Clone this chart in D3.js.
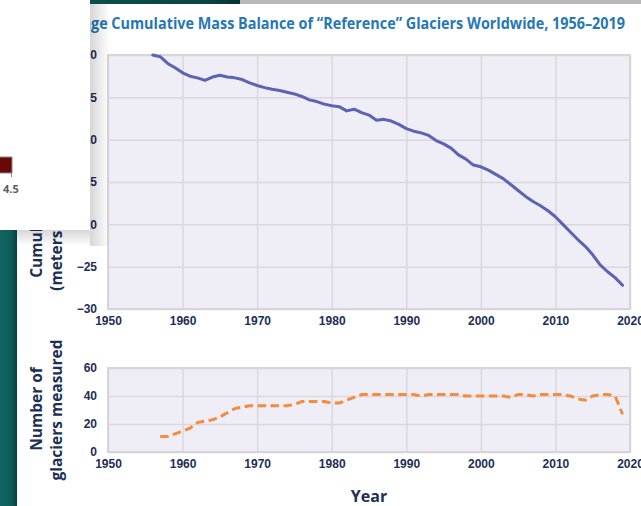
<!DOCTYPE html>
<html lang="en">
<head>
<meta charset="UTF-8">
<title>Glaciers - cumulative mass balance</title>
<script src="https://d3js.org/d3.v7.min.js"></script>
<style>
    body { margin: 0; background: #ffffff; }
    svg { display: block; font-family: "Open Sans", sans-serif; }
    .tick text { font-size: 12px; font-weight: 700; fill: #1c2f55; }
    .grid line { stroke: #d9d8dc; stroke-width: 1.5px; }
    .grid path { display: none; }
    .ylab { font-size: 15.5px; font-weight: 700; fill: #1c2f55; }
</style>
</head>
<body>
<svg id="chart" width="641" height="506"></svg>
<script>
    // cumulative mass balance, meters of water equivalent
    let mb_years = d3.range(1956, 2020)
    let mb_values = [
        0, -0.2, -1.0, -1.5, -2.1, -2.5, -2.7, -3.0, -2.6, -2.4,
        -2.6, -2.7, -2.9, -3.3, -3.6, -3.85, -4.05, -4.2, -4.4, -4.6,
        -4.9, -5.3, -5.5, -5.8, -6.0, -6.1, -6.6, -6.4, -6.8, -7.1,
        -7.7, -7.6, -7.8, -8.2, -8.7, -9.0, -9.2, -9.5, -10.1, -10.5,
        -11.0, -11.8, -12.3, -13.0, -13.2, -13.6, -14.1, -14.6, -15.3, -16.0,
        -16.7, -17.3, -17.8, -18.4, -19.1, -20.0, -20.9, -21.8, -22.6, -23.6,
        -24.8, -25.6, -26.3, -27.2
    ]
    // number of glaciers measured
    let n_years = d3.range(1957, 2020)
    let n_values = [
        11, 11, 13, 15, 17, 21, 22, 23, 25, 28,
        31, 32, 33, 33, 33, 33, 33, 33, 34, 36,
        36, 36, 36, 35, 35, 37, 39, 41, 41, 41,
        41, 41, 41, 41, 41, 40, 41, 41, 41, 41,
        41, 40, 40, 40, 40, 40, 40, 39, 41, 41,
        40, 41, 41, 41, 41, 40, 38, 37, 40, 41,
        41, 40, 27
    ]
    let x_ticks = [1950, 1960, 1970, 1980, 1990, 2000, 2010, 2020]
    let mb_ticks = [0, -5, -10, -15, -20, -25, -30]
    let n_ticks = [0, 20, 40, 60]

    let svg = d3.select("#chart")
    let defs = svg.append("defs")

    let navy = "#1c2f55"
    let left = 108, right = 630

    let x = d3.scaleLinear().domain([1950, 2020]).range([left, right])
    let yTop = d3.scaleLinear().domain([-30, 0]).range([309, 55])
    let yBot = d3.scaleLinear().domain([0, 60]).range([452, 368])

    // title (its first letters sit under the overlapping card)
    let title = svg.append("g")
        .attr("font-size", 15.5).attr("font-weight", 700)
        .attr("fill", "#2677b5")
    title.append("text")
        .attr("x", 91).attr("y", 29)
        .attr("text-anchor", "end")
        .text("Avera")
    title.append("text")
        .attr("x", 91).attr("y", 29)
        .attr("textLength", 534)
        .attr("lengthAdjust", "spacingAndGlyphs")
        .text("ge Cumulative Mass Balance of \u201CReference\u201D Glaciers Worldwide, 1956\u20132019")

    function panel(yScale, ticks, top, bottom) {
        let g = svg.append("g")
        g.append("rect")
            .attr("x", left).attr("y", top)
            .attr("width", right - left).attr("height", bottom - top)
            .attr("fill", "#efedf5")
        g.append("g").attr("class", "grid")
            .attr("transform", `translate(0,${bottom})`)
            .call(d3.axisBottom(x).tickValues(x_ticks).tickSize(-(bottom - top))
                .tickPadding(7.5).tickFormat(d3.format("d")))
        g.append("g").attr("class", "grid")
            .attr("transform", `translate(${left},0)`)
            .call(d3.axisLeft(yScale).tickValues(ticks).tickSize(-(right - left))
                .tickPadding(11))
        g.selectAll(".tick text").attr("font-family", null).attr("font-size", null)
        g.append("rect")
            .attr("x", left).attr("y", top)
            .attr("width", right - left).attr("height", bottom - top)
            .attr("fill", "none").attr("stroke", "#d6d5da").attr("stroke-width", 2)
        return g
    }

    let gTop = panel(yTop, mb_ticks, 55, 309)
    let gBot = panel(yBot, n_ticks, 368, 452)

    gTop.append("path")
        .datum(mb_values)
        .attr("fill", "none")
        .attr("stroke", "#5b63b5")
        .attr("stroke-width", 3)
        .attr("stroke-linejoin", "round")
        .attr("stroke-linecap", "round")
        .attr("d", d3.line().x((d, i) => x(mb_years[i])).y(d => yTop(d)))

    gBot.append("path")
        .datum(n_values)
        .attr("fill", "none")
        .attr("stroke", "#f58b3d")
        .attr("stroke-width", 3)
        .attr("stroke-dasharray", "8.5,4.5")
        .attr("d", d3.line().x((d, i) => x(n_years[i])).y(d => yBot(d)))

    // axis titles
    svg.append("text").attr("class", "ylab")
        .attr("transform", "translate(42,179) rotate(-90)")
        .attr("text-anchor", "middle")
        .text("Cumulative mass balance")
    svg.append("text").attr("class", "ylab")
        .attr("transform", "translate(62,180) rotate(-90)")
        .attr("text-anchor", "middle")
        .text("(meters of water equivalent)")
    svg.append("text").attr("class", "ylab")
        .attr("transform", "translate(42,409) rotate(-90)")
        .attr("text-anchor", "middle")
        .text("Number of")
    svg.append("text").attr("class", "ylab")
        .attr("transform", "translate(62,410) rotate(-90)")
        .attr("text-anchor", "middle")
        .text("glaciers measured")
    svg.append("text")
        .attr("x", 369).attr("y", 502)
        .attr("text-anchor", "middle")
        .attr("font-size", 16).attr("font-weight", 700)
        .attr("fill", navy)
        .text("Year")

    // surrounding desktop pieces from the screenshot
    let tealGrad = defs.append("linearGradient").attr("id", "teal")
    tealGrad.append("stop").attr("offset", "0%").attr("stop-color", "#126461")
    tealGrad.append("stop").attr("offset", "65%").attr("stop-color", "#0f5d5a")
    tealGrad.append("stop").attr("offset", "100%").attr("stop-color", "#07403e")
    svg.append("rect").attr("x", 0).attr("y", 230).attr("width", 17).attr("height", 276)
        .attr("fill", "url(#teal)")

    let topGrad = defs.append("linearGradient").attr("id", "topteal")
    topGrad.append("stop").attr("offset", "0%").attr("stop-color", "#0c4e4c")
    topGrad.append("stop").attr("offset", "80%").attr("stop-color", "#0a4543")
    topGrad.append("stop").attr("offset", "100%").attr("stop-color", "#06302f")
    svg.append("rect").attr("x", 90).attr("y", 0).attr("width", 150).attr("height", 4)
        .attr("fill", "url(#topteal)")
    svg.append("rect").attr("x", 240).attr("y", 0).attr("width", 401).attr("height", 4)
        .attr("fill", "#b8b8b8")

    // card shadow
    let shR = defs.append("linearGradient").attr("id", "shR")
    shR.append("stop").attr("offset", "0%").attr("stop-color", "#000").attr("stop-opacity", 0.16)
    shR.append("stop").attr("offset", "100%").attr("stop-color", "#000").attr("stop-opacity", 0)
    let shB = defs.append("linearGradient").attr("id", "shB")
        .attr("x1", 0).attr("y1", 0).attr("x2", 0).attr("y2", 1)
    shB.append("stop").attr("offset", "0%").attr("stop-color", "#000").attr("stop-opacity", 0.16)
    shB.append("stop").attr("offset", "100%").attr("stop-color", "#000").attr("stop-opacity", 0)
    svg.append("rect").attr("x", 90).attr("y", 4).attr("width", 20).attr("height", 242)
        .attr("fill", "url(#shR)")
    svg.append("rect").attr("x", 17).attr("y", 230).attr("width", 73).attr("height", 16)
        .attr("fill", "url(#shB)")

    // overlapping white card
    svg.append("rect").attr("x", 0).attr("y", 0).attr("width", 90).attr("height", 230)
        .attr("fill", "#ffffff")
    svg.append("rect").attr("x", -2).attr("y", 157).attr("width", 14).attr("height", 16)
        .attr("fill", "#6a0808").attr("stroke", "#8a8a8a").attr("stroke-width", 1)
    svg.append("line").attr("x1", 11.5).attr("x2", 11.5).attr("y1", 173).attr("y2", 177)
        .attr("stroke", "#8a8a8a")
    svg.append("text").attr("x", 3).attr("y", 193)
        .attr("font-size", 11).attr("font-weight", 700).attr("fill", "#5b5b5b")
        .text("4.5")
</script>
</body>
</html>
